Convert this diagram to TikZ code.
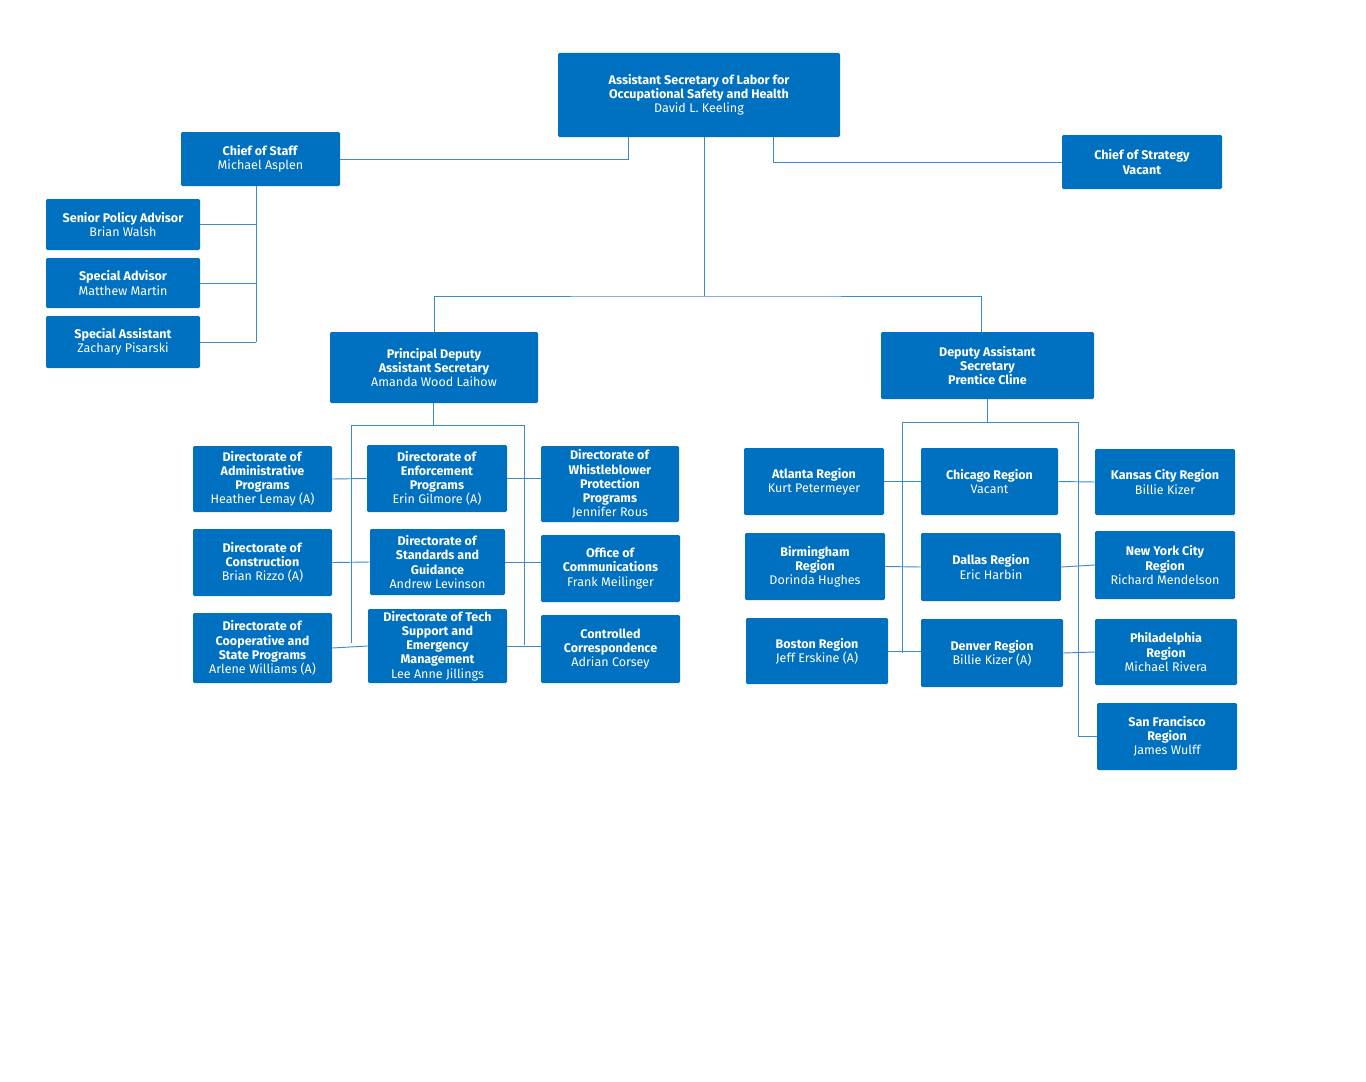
\documentclass[tikz,border=0pt]{standalone}
\usepackage{fontspec}
\setmainfont{Fira Sans}
\definecolor{oshablue}{HTML}{0070C0}
\definecolor{linkblue}{HTML}{3A8AD0}
\tikzset{
  box/.style={fill=oshablue, text=white, rounded corners=1pt, inner sep=1pt,
    align=center, font=\fontsize{9.4}{10.6}\selectfont},
  link/.style={draw=linkblue, line width=0.7pt},
}
\newcommand\tl[1]{\textbf{#1}}
% name, x1, y1, x2, y2, text
\newcommand\orgbox[6]{\node[box, minimum width={(#4-#2)*0.75pt},
  minimum height={(#5-#3)*0.75pt}] (#1) at ({(#2+#4)/2},{(#3+#5)/2}) {#6};}

\begin{document}
\begin{tikzpicture}[x=0.75pt, y=-0.75pt]
\useasboundingbox (0,0) rectangle (1366,1081);

% top level
\orgbox{asec}{558}{53}{840}{137}{\tl{Assistant Secretary of Labor for}\\\tl{Occupational Safety and Health}\\David L. Keeling}
\orgbox{cos}{181}{132}{340}{186}{\tl{Chief of Staff}\\Michael Asplen}
\orgbox{strat}{1062}{135}{1222}{189}{\tl{Chief of Strategy}\\\tl{Vacant}}
\orgbox{spa}{46}{199}{200}{250}{\tl{Senior Policy Advisor}\\Brian Walsh}
\orgbox{sadv}{46}{258}{200}{308}{\tl{Special Advisor}\\Matthew Martin}
\orgbox{sass}{46}{316}{200}{368}{\tl{Special Assistant}\\Zachary Pisarski}
\orgbox{pdas}{330}{332}{538}{403}{\tl{Principal Deputy}\\\tl{Assistant Secretary}\\Amanda Wood Laihow}
\orgbox{das}{881}{332}{1094}{399}{\tl{Deputy Assistant}\\\tl{Secretary}\\\tl{Prentice Cline}}

% directorates
\orgbox{dap}{193}{446}{332}{512}{\tl{Directorate of}\\\tl{Administrative}\\\tl{Programs}\\Heather Lemay (A)}
\orgbox{dep}{367}{445}{507}{512}{\tl{Directorate of}\\\tl{Enforcement}\\\tl{Programs}\\Erin Gilmore (A)}
\orgbox{dwpp}{541}{446}{679}{522}{\tl{Directorate of}\\\tl{Whistleblower}\\\tl{Protection}\\\tl{Programs}\\Jennifer Rous}
\orgbox{dc}{193}{529}{332}{596}{\tl{Directorate of}\\\tl{Construction}\\Brian Rizzo (A)}
\orgbox{dsg}{370}{529}{505}{595}{\tl{Directorate of}\\\tl{Standards and}\\\tl{Guidance}\\Andrew Levinson}
\orgbox{oc}{541}{535}{680}{602}{\tl{Office of}\\\tl{Communications}\\Frank Meilinger}
\orgbox{dcsp}{193}{613}{332}{683}{\tl{Directorate of}\\\tl{Cooperative and}\\\tl{State Programs}\\Arlene Williams (A)}
\orgbox{dts}{368}{609}{507}{683}{\tl{Directorate of Tech}\\\tl{Support and}\\\tl{Emergency}\\\tl{Management}\\Lee Anne Jillings}
\orgbox{cc}{541}{615}{680}{683}{\tl{Controlled}\\\tl{Correspondence}\\Adrian Corsey}

% regions
\orgbox{atl}{744}{448}{884}{515}{\tl{Atlanta Region}\\Kurt Petermeyer}
\orgbox{chi}{921}{448}{1058}{515}{\tl{Chicago Region}\\Vacant}
\orgbox{kc}{1095}{449}{1235}{515}{\tl{Kansas City Region}\\Billie Kizer}
\orgbox{bir}{745}{533}{885}{600}{\tl{Birmingham}\\\tl{Region}\\Dorinda Hughes}
\orgbox{dal}{921}{533}{1061}{601}{\tl{Dallas Region}\\Eric Harbin}
\orgbox{nyc}{1095}{531}{1235}{599}{\tl{New York City}\\\tl{Region}\\Richard Mendelson}
\orgbox{bos}{746}{618}{888}{684}{\tl{Boston Region}\\Jeff Erskine (A)}
\orgbox{den}{921}{619}{1063}{687}{\tl{Denver Region}\\Billie Kizer (A)}
\orgbox{phi}{1095}{619}{1237}{685}{\tl{Philadelphia}\\\tl{Region}\\Michael Rivera}
\orgbox{sf}{1097}{703}{1237}{770}{\tl{San Francisco}\\\tl{Region}\\James Wulff}

% trunk points
\coordinate (topsplit) at (704,296);
\coordinate (cosbus) at (256,342);
\coordinate (pdasL) at (351,425);
\coordinate (pdasR) at (524,425);
\coordinate (dasL) at (902,422);
\coordinate (dasR) at (1078,422);

% executive links
\draw[link] (asec.south -| 628,0) |- (cos.east);
\draw[link] (asec.south -| 773,0) |- (strat.west);
\draw[link] (asec.south -| topsplit) -- (topsplit);
\draw[link] (pdas.north -| 434,0) |- (topsplit) -| (das.north -| 981,0);
\draw[link] (cos.south -| cosbus) -- (cosbus);
\foreach \n in {spa,sadv,sass} \draw[link] (\n.east) -- (\n.east -| cosbus);

% principal deputy links
\draw[link] (pdas.south -| 433,0) -- (433,425);
\draw[link] (pdasL |- 0,643) -- (pdasL) -- (pdasR) -- (pdasR |- 0,645);
\draw[link] (dap.east) -- (dep.west);
\draw[link] (dc.east) -- (dsg.west);
\draw[link] (dcsp.east) -- (dts.west);
\draw[link] (dep.east) -- (dwpp.west |- dep.east);
\draw[link] (dsg.east) -- (oc.west |- dsg.east);
\draw[link] (dts.east) -- (cc.west |- dts.east);

% deputy links
\draw[link] (das.south -| 987,0) -- (987,422);
\draw[link] (dasL |- 0,653) -- (dasL) -- (dasR) |- (sf.west);
\draw[link] (atl.east) -- (chi.west);
\draw[link] (bir.east) -- (dal.west);
\draw[link] (bos.east) -- (den.west |- bos.east);
\draw[link] (chi.east) -- (kc.west);
\draw[link] (dal.east) -- (nyc.west);
\draw[link] (den.east) -- (phi.west);
\end{tikzpicture}
\end{document}
